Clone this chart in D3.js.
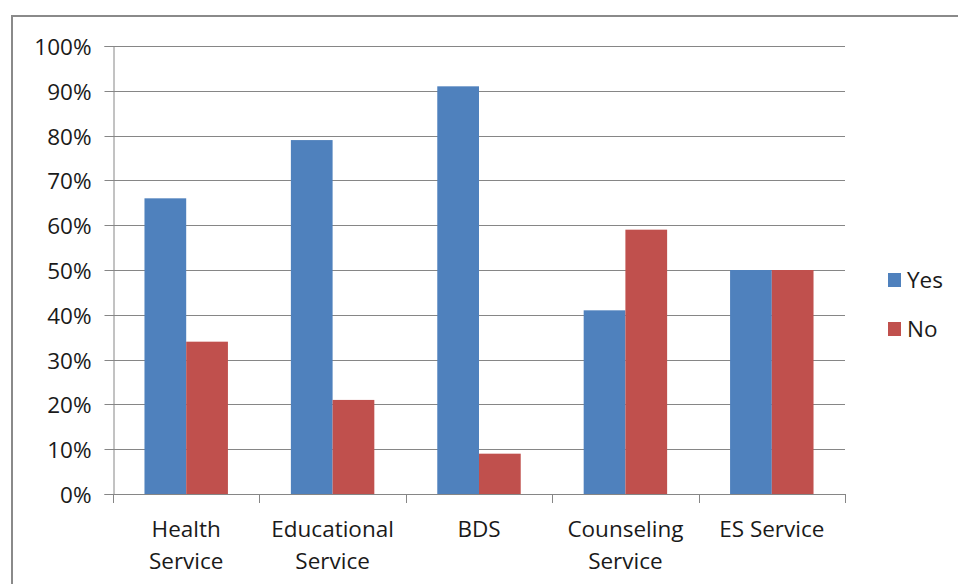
<!DOCTYPE html>
<html>
<head>
<meta charset="utf-8">
<script src="https://cdn.jsdelivr.net/npm/d3@7"></script>
<style>
  html, body { margin: 0; padding: 0; background: #fff; }
  svg { display: block; }
  text { font-family: "Open Sans", Lato, sans-serif; fill: #1a1a1a; }
</style>
</head>
<body>
<svg id="chart" width="958" height="584"></svg>
<script>
// Service usage survey: share of Yes / No answers per service
const categories = [["Health", "Service"], ["Educational", "Service"], ["BDS"], ["Counseling", "Service"], ["ES Service"]];
const seriesNames = ["Yes", "No"];
const yesValues = [0.66, 0.79, 0.91, 0.41, 0.50];
const noValues = [0.34, 0.21, 0.09, 0.59, 0.50];
const yTicks = [0, 0.1, 0.2, 0.3, 0.4, 0.5, 0.6, 0.7, 0.8, 0.9, 1.0];
const colors = ["#4F81BD", "#C0504D"];

const svg = d3.select("#chart");
const fontSize = 22.5;

// Chart area frame
svg.append("rect")
  .attr("x", 12).attr("y", 16)
  .attr("width", 1000).attr("height", 1000)
  .attr("fill", "none").attr("stroke", "#8a8a8a").attr("stroke-width", 2);

const plot = { left: 113, right: 845, top: 46, bottom: 494 };

const catKeys = categories.map((c, i) => i);
const x0 = d3.scaleBand().domain(catKeys).range([plot.left, plot.right]).paddingInner(0.43).paddingOuter(0.215);
const x1 = d3.scaleBand().domain(seriesNames).range([0, x0.bandwidth()]).padding(0);
const y = d3.scaleLinear().domain([0, 1]).range([plot.bottom, plot.top]);

const gridColor = "#868686";

// Horizontal gridlines
svg.append("g")
  .selectAll("line")
  .data(yTicks.slice(1))
  .join("line")
  .attr("x1", plot.left).attr("x2", plot.right)
  .attr("y1", d => Math.round(y(d)) + 0.5).attr("y2", d => Math.round(y(d)) + 0.5)
  .attr("stroke", gridColor).attr("stroke-width", 1);

// Bars
const groups = svg.append("g")
  .selectAll("g")
  .data(catKeys)
  .join("g")
  .attr("transform", i => `translate(${x0(i)},0)`);

groups.selectAll("rect")
  .data(i => [{ s: "Yes", v: yesValues[i] }, { s: "No", v: noValues[i] }])
  .join("rect")
  .attr("x", d => x1(d.s))
  .attr("width", x1.bandwidth())
  .attr("y", d => y(d.v))
  .attr("height", d => y(0) - y(d.v))
  .attr("fill", (d, j) => colors[j]);

// Y axis
const yAxis = d3.axisLeft(y)
  .tickValues(yTicks)
  .tickFormat(d3.format(".0%"))
  .tickSize(9)
  .tickPadding(13);
const gy = svg.append("g")
  .attr("transform", `translate(${plot.left + 0.5},0)`)
  .call(yAxis);
gy.select(".domain").attr("stroke", gridColor);
gy.selectAll(".tick line").attr("stroke", gridColor);
gy.selectAll(".tick").attr("transform", d => `translate(0,${Math.round(y(d)) + 0.5})`);
gy.selectAll(".tick text")
  .attr("font-family", "'Open Sans', Lato, sans-serif")
  .attr("font-size", fontSize)
  .attr("fill", "#1a1a1a")
  .attr("dy", "0.36em");

// X axis line and category boundary ticks
const xa = svg.append("g");
xa.append("line")
  .attr("x1", plot.left).attr("x2", plot.right)
  .attr("y1", plot.bottom + 0.5).attr("y2", plot.bottom + 0.5)
  .attr("stroke", gridColor);
const step = x0.step();
const bounds = d3.range(categories.length + 1).map(i => plot.left + i * step);
xa.selectAll("line.tk")
  .data(bounds)
  .join("line")
  .attr("class", "tk")
  .attr("x1", d => Math.round(d) + 0.5).attr("x2", d => Math.round(d) + 0.5)
  .attr("y1", plot.bottom).attr("y2", plot.bottom + 9)
  .attr("stroke", gridColor);

// Category labels
const labels = xa.selectAll("text.cat")
  .data(catKeys)
  .join("text")
  .attr("class", "cat")
  .attr("text-anchor", "middle")
  .attr("font-size", fontSize)
  .attr("x", i => x0(i) + x0.bandwidth() / 2)
  .attr("y", 537);
labels.selectAll("tspan")
  .data(i => categories[i].map((t, k) => ({ t, k, i })))
  .join("tspan")
  .attr("x", d => x0(d.i) + x0.bandwidth() / 2)
  .attr("dy", d => d.k === 0 ? 0 : 32)
  .text(d => d.t);

// Legend
const legend = svg.append("g");
seriesNames.forEach((name, j) => {
  const ly = 280 + j * 49;
  legend.append("rect")
    .attr("x", 888).attr("y", ly - 7)
    .attr("width", 13).attr("height", 14)
    .attr("fill", colors[j]);
  legend.append("text")
    .attr("x", 907).attr("y", ly)
    .attr("dy", "0.36em")
    .attr("font-size", fontSize)
    .text(name);
});
</script>
</body>
</html>
